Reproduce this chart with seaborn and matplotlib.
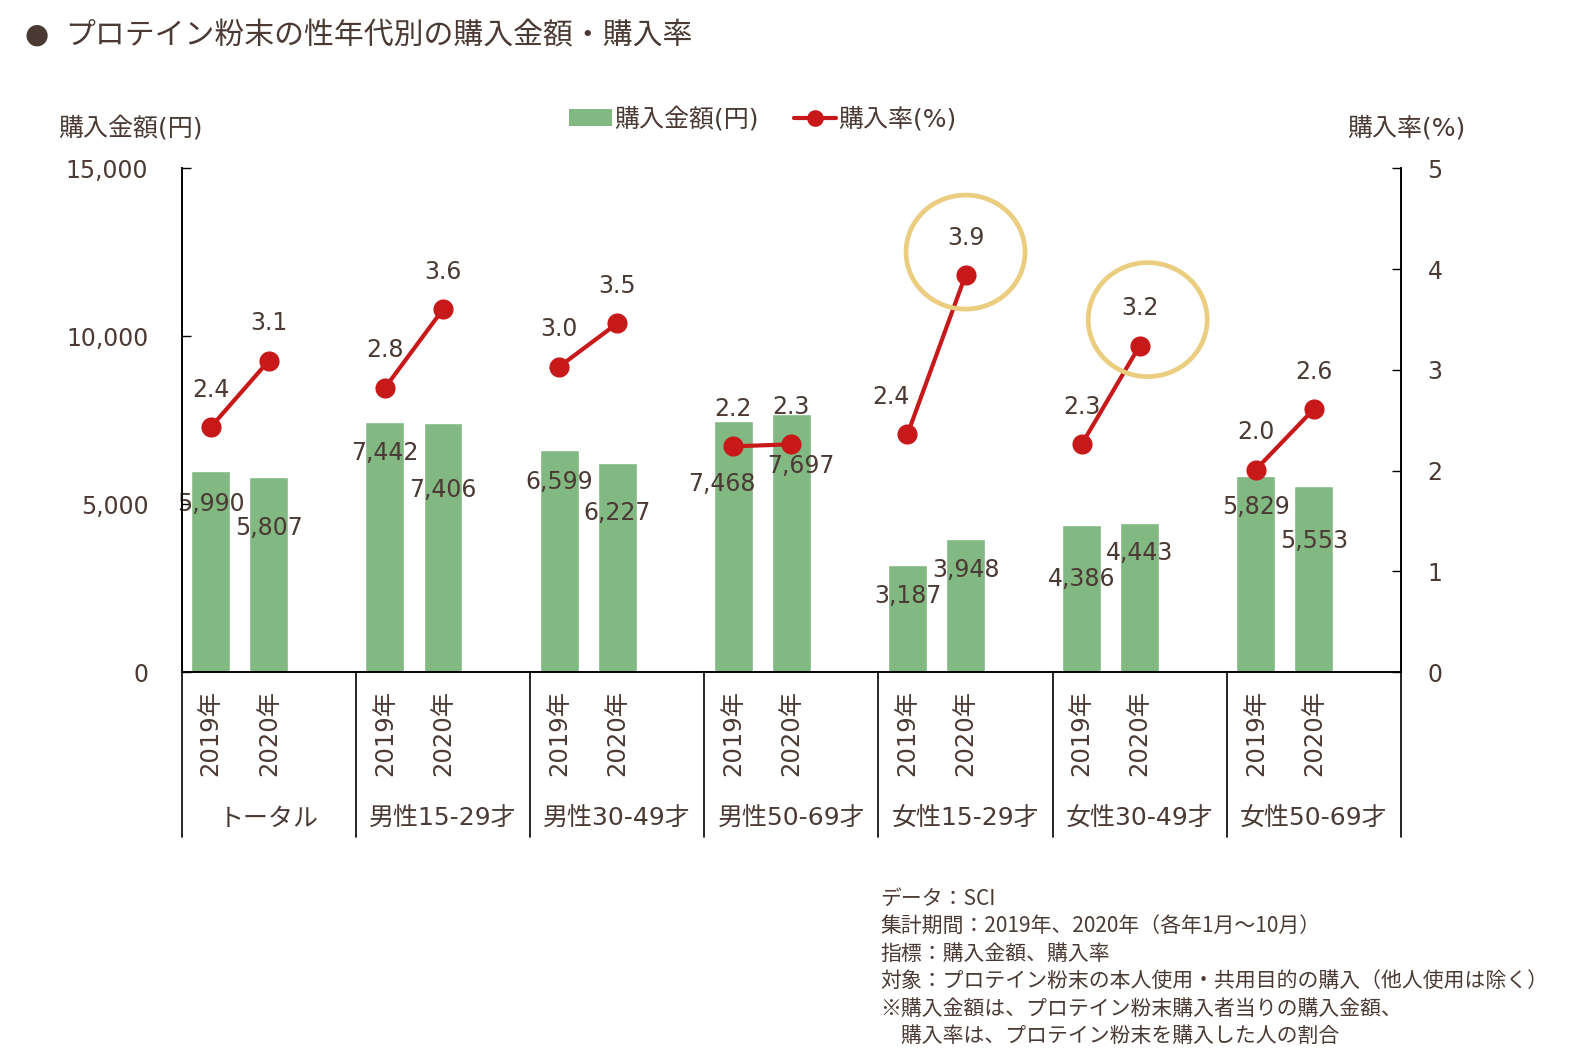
import matplotlib
matplotlib.use("Agg")
import matplotlib.pyplot as plt
import seaborn as sns
import pandas as pd
from matplotlib.patches import Patch, Ellipse
from matplotlib.lines import Line2D
from matplotlib.ticker import FuncFormatter
from matplotlib.transforms import IdentityTransform, blended_transform_factory

# ---------------- data ----------------
groups = ["トータル", "男性15-29才", "男性30-49才", "男性50-69才",
          "女性15-29才", "女性30-49才", "女性50-69才"]
years = ["2019年", "2020年"]
amount_2019 = [5990, 7442, 6599, 7468, 3187, 4386, 5829]
amount_2020 = [5807, 7406, 6227, 7697, 3948, 4443, 5553]
rate_2019 = [2.43, 2.82, 3.03, 2.24, 2.36, 2.26, 2.01]
rate_2020 = [3.09, 3.60, 3.46, 2.26, 3.94, 3.24, 2.61]
highlight = [("女性15-29才", "2020年"), ("女性30-49才", "2020年")]

title = "プロテイン粉末の性年代別の購入金額・購入率"
left_title = "購入金額(円)"
right_title = "購入率(%)"
footnotes = [
    "データ：SCI",
    "集計期間：2019年、2020年（各年1月～10月）",
    "指標：購入金額、購入率",
    "対象：プロテイン粉末の本人使用・共用目的の購入（他人使用は除く）",
    "※購入金額は、プロテイン粉末購入者当りの購入金額、",
    "　購入率は、プロテイン粉末を購入した人の割合",
]

# ---------------- style ----------------
GREEN = "#82B882"
RED = "#C8191A"
GOLD = "#EBCD80"
TXT = "#4B3A33"

sns.set_style("white")
plt.rcParams["font.family"] = ["DejaVu Sans", "Noto Sans CJK JP"]
plt.rcParams["text.color"] = TXT

rows = []
for g, name in enumerate(groups):
    for yi, yr in enumerate(years):
        amt = (amount_2019, amount_2020)[yi][g]
        rt = (rate_2019, rate_2020)[yi][g]
        rows.append(dict(group=name, year=yr, pos=3 * g + yi, amount=amt, rate=rt))
df = pd.DataFrame(rows)

# label offsets (points) – layout only
bar_lab_dy = [24, 37, 22, 48, 23, 36, 45, 38, 22, 22, 39, 22, 22, 40]
bar_lab_dx = [0, 0, 0, 0, 0, 0, -8, 7, 0, 0, 0, 0, 0, 0]
rate_lab_dx = [0, 0, 0, 0, 0, 0, 0, 0, -12, 0, 0, 0, 0, 0]
circle_off = [(0, 23), (8, 26)]

fig = plt.figure(figsize=(15.75, 10.63), dpi=100)
ax = fig.add_axes([181.7 / 1575, 1 - 672 / 1063, (1401 - 181.7) / 1575, (672 - 168.3) / 1063])
ax2 = ax.twinx()

sns.barplot(data=df, x="pos", y="amount", native_scale=True, color=GREEN,
            saturation=1, width=0.67, errorbar=None, ax=ax, zorder=2)
sns.lineplot(data=df, x="pos", y="rate", units="group", estimator=None,
             color=RED, lw=3, marker="o", markersize=14.5, markeredgewidth=0,
             ax=ax2, legend=False, zorder=3)

ax.set_xlim(-0.5, 3 * len(groups) - 0.5)
ax2.set_xlim(-0.5, 3 * len(groups) - 0.5)
ax.set_ylim(0, 15000)
ax2.set_ylim(0, 5)
ax.set_yticks([0, 5000, 10000, 15000])
ax2.set_yticks([0, 1, 2, 3, 4, 5])
ax.yaxis.set_major_formatter(FuncFormatter(lambda v, p: f"{int(v):,}"))
ax.set_xlabel("")
ax.set_ylabel("")
ax2.set_xlabel("")
ax2.set_ylabel("")

ax.set_xticks(df["pos"].tolist())
ax.set_xticklabels(df["year"].tolist(), rotation=90, fontsize=17.5, color=TXT)
ax.tick_params(axis="x", length=0, pad=13)
ax.tick_params(axis="y", direction="in", length=6.5, width=1, pad=24,
               labelsize=17, labelcolor=TXT, color="black", left=True)
ax2.tick_params(axis="y", direction="in", length=6.5, width=1, pad=19,
                labelsize=17, labelcolor=TXT, color="black", right=True)

for a in (ax, ax2):
    a.spines["top"].set_visible(False)
    for s in ("left", "right", "bottom"):
        a.spines[s].set_color("black")
        a.spines[s].set_linewidth(1.2)
    a.grid(False)

# group separators and labels
trans = blended_transform_factory(ax.transData, ax.transAxes)
for g in range(len(groups) + 1):
    ax.plot([3 * g - 0.5, 3 * g - 0.5], [0, -0.3276], transform=trans,
            color="black", lw=1.2, clip_on=False)
for g, name in enumerate(groups):
    ax.text(3 * g + 1, -0.292, name, transform=trans, ha="center",
            va="center", fontsize=18, color=TXT)

# value labels
for i, r in df.iterrows():
    ax.annotate(f"{r['amount']:,}", (r["pos"], r["amount"]),
                xytext=(bar_lab_dx[i], -bar_lab_dy[i]), textcoords="offset points",
                ha="center", va="center", fontsize=17, color=TXT, zorder=5)
    ax2.annotate(f"{r['rate']:.1f}", (r["pos"], r["rate"]),
                 xytext=(rate_lab_dx[i], 27), textcoords="offset points",
                 ha="center", va="center", fontsize=17, color=TXT, zorder=5)

# highlight circles
for (grp, yr), (dx, dy) in zip(highlight, circle_off):
    r = df[(df["group"] == grp) & (df["year"] == yr)].iloc[0]
    cx, cy = ax2.transData.transform((r["pos"], r["rate"]))
    fig.add_artist(Ellipse((cx + dx, cy + dy), 119, 114, transform=IdentityTransform(),
                           fill=False, edgecolor=GOLD, lw=3.4, zorder=6))

# legend
handles = [Patch(facecolor=GREEN, edgecolor="none"),
           Line2D([], [], color=RED, lw=3, marker="o", markersize=12, markeredgewidth=0)]
fig.legend(handles, [left_title, right_title], loc="center",
           bbox_to_anchor=(763 / 1575, 1 - 119 / 1063), ncol=2, frameon=False,
           handlelength=1.7, handletextpad=0.1, columnspacing=1.4, fontsize=18)

# titles
fig.text(37 / 1575, 1 - 35 / 1063, "●", ha="center", va="center", fontsize=20, color=TXT)
fig.text(65 / 1575, 1 - 36 / 1063, title, ha="left", va="center", fontsize=21.5, color=TXT)
fig.text(58 / 1575, 1 - 128 / 1063, left_title, ha="left", va="center", fontsize=18, color=TXT)
fig.text(1347 / 1575, 1 - 128 / 1063, right_title, ha="left", va="center", fontsize=18, color=TXT)

for k, line in enumerate(footnotes):
    fig.text(880 / 1575, 1 - (899 + 27.4 * k) / 1063, line, ha="left", va="center",
             fontsize=15, color=TXT, family=["Noto Sans CJK JP", "DejaVu Sans"])

fig.savefig("out.png", dpi=100)
